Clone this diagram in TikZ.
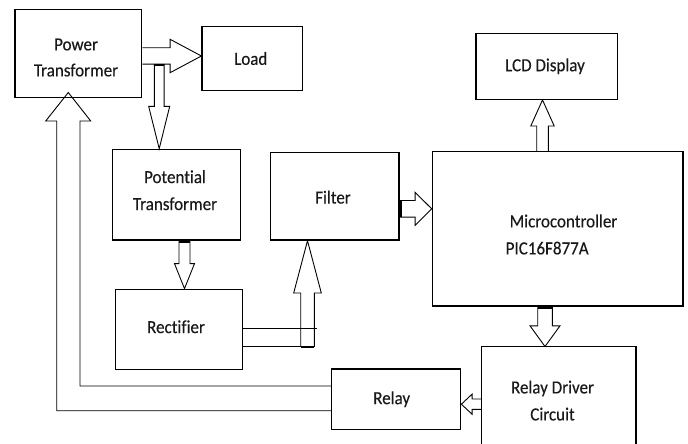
\documentclass[tikz,border=0pt]{standalone}
\usepackage{fontspec}
\setmainfont{Carlito}[Ligatures=NoCommon, FakeStretch=0.92, FakeBold=0.3]
\usetikzlibrary{calc}
\tikzset{
  box/.style={draw, line width=1.3pt, inner sep=0pt, anchor=center},
  txt/.style={font=\fontsize{18.5}{27}\selectfont, align=center, inner sep=0pt, text=black!90},
  arr/.style={draw, line width=0.9pt, line join=miter},
  bar/.style={draw, line width=2.4pt},
}
% vertical block arrow: #1 axis x, #2 start, #3 tip, #4 shaft half, #5 head half, #6 signed head length (canvas)
\newcommand\vblk[6]{%
  \path[arr] let \p1=(#2), \p2=(#3) in
    (#1-#4,\y1) -- (#1-#4,\y2+#6) -- (#1-#5,\y2+#6) -- (#1,\y2)
    -- (#1+#5,\y2+#6) -- (#1+#4,\y2+#6) -- (#1+#4,\y1);}
% horizontal block arrow: #1 axis y (canvas), #2 start, #3 tip, #4 shaft half, #5 head half, #6 signed head length
\newcommand\hblk[6]{%
  \path[arr] let \p1=(#2), \p2=(#3) in
    (\x1,#1+#4) -- (\x2+#6,#1+#4) -- (\x2+#6,#1+#5) -- (\x2,#1)
    -- (\x2+#6,#1-#5) -- (\x2+#6,#1-#4) -- (\x1,#1-#4);}
\begin{document}
\begin{tikzpicture}[x=1pt,y=-1pt]
\useasboundingbox (0,0) rectangle (688,444);

\node[box, minimum width=126.7pt, minimum height=88.4pt,
  label={[txt,name=pwrl,xshift=-2.3pt,yshift=-4pt]center:Power\\[-1pt]Transformer}] (pwr) at (78.3,53.5) {};
\node[box, minimum width=100.3pt, minimum height=64pt,
  label={[txt,name=loadl,xshift=-1.4pt]center:Load}] (load) at (252.2,58.5) {};
\node[box, minimum width=128.4pt, minimum height=90.7pt,
  label={[txt,name=ptl,xshift=-1.5pt,yshift=4.5pt]center:Potential\\Transformer}] (pt) at (176.5,194.7) {};
\node[box, minimum width=128.3pt, minimum height=87.7pt,
  label={[txt,name=filterl,xshift=-1.8pt,yshift=-1pt]center:Filter}] (filter) at (334.8,196.2) {};
\node[box, minimum width=250.7pt, minimum height=154.3pt,
  label={[txt,name=microl,align=left,xshift=3.8pt,yshift=-5.7pt]center:\hspace*{4pt}Microcontroller\\PIC16F877A}] (micro) at (557.7,228.8) {};
\node[box, minimum width=141.7pt, minimum height=66pt,
  label={[txt,name=lcdl,xshift=-1.8pt]center:LCD Display}] (lcd) at (546.8,66.3) {};
\node[box, minimum width=127.1pt, minimum height=80pt,
  label={[txt,name=rectl,xshift=-3pt,yshift=2.5pt]center:Rectifier}] (rect) at (179,329.3) {};
\node[box, minimum width=129pt, minimum height=60.3pt,
  label={[txt,name=relayl,xshift=-4.5pt]center:Relay}] (relay) at (396.2,399.2) {};
\node[inner sep=0pt, minimum width=154pt, minimum height=97.3pt,
  label={[txt,name=rdl,xshift=-6.2pt,yshift=-5.2pt]center:Relay Driver\\Circuit}] (rd) at (558.7,395.35) {};
\draw[line width=1.3pt] (rd.south west) -- (rd.north west) -- (rd.north east) -- (rd.south east);

% Power Transformer -> Load
\hblk{-56pt}{pwr.east}{load.west}{8.2pt}{16.7pt}{-31.3pt}
% Power Transformer -> Potential Transformer
\vblk{159.2pt}{$(pwr.east)+(0,10.7)$}{pt.north}{4.9pt}{10.5pt}{42.3pt}
\path[bar] let \p1=($(pwr.east)+(0,11.3)$) in (154.3pt,\y1) -- (164.1pt,\y1);
% Potential Transformer -> Rectifier
\vblk{184.5pt}{pt.south}{rect.north}{5.5pt}{10pt}{25pt}
\path[bar] let \p1=($(pt.south)+(0,1.5)$) in (179pt,\y1) -- (190pt,\y1);
% Rectifier -> Filter
\vblk{307.5pt}{$(rect.east)+(0,17.4)$}{filter.south}{6.8pt}{13.8pt}{-52.3pt}
\draw[arr] ($(rect.east)+(0,-1)$) -- ($(rect.east)+(73.5,-1)$);
\draw[arr] ($(rect.east)+(0,17.4)$) -- ($(rect.east)+(71.7,17.4)$);
\path[bar] let \p1=($(rect.east)+(0,17.4)$) in (300.7pt,\y1) -- (314.3pt,\y1);
% Filter -> Microcontroller
\hblk{-208.8pt}{filter.east}{micro.west}{8.3pt}{16.5pt}{-16.6pt}
\path[bar] let \p1=(filter.east) in (\x1+0.8pt,-200.5pt) -- (\x1+0.8pt,-217pt);
% Microcontroller -> LCD
\vblk{542.5pt}{micro.north}{lcd.south}{5.8pt}{11.7pt}{-26pt}
% Microcontroller -> Relay Driver
\vblk{545pt}{micro.south}{rd.north}{7.3pt}{15pt}{20.7pt}
\path[bar] let \p1=($(micro.south)+(0,1)$) in (537.7pt,\y1) -- (552.3pt,\y1);
% Relay Driver -> Relay
\hblk{-404.2pt}{rd.west}{relay.east}{5.2pt}{10pt}{10.7pt}
% Relay -> Power Transformer (feedback)
\path[arr] let \p1=(relay.west) in
  (\x1,\y1+13.2pt) -- (80pt,\y1+13.2pt) -- (80pt,-121pt) -- (90.7pt,-121pt)
  -- (68.3pt,-92.5pt) -- (45.7pt,-121pt) -- (56.7pt,-121pt)
  -- (56.7pt,\y1-11.5pt) -- (\x1,\y1-11.5pt);
\end{tikzpicture}
\end{document}
